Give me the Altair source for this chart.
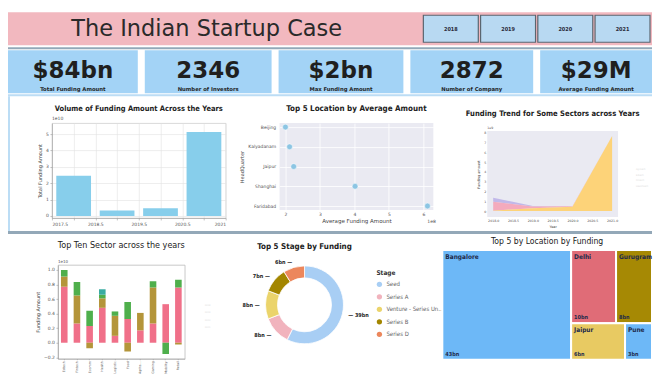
import altair as alt
import pandas as pd

# ---------------- data ----------------
year_buttons = ["2018", "2019", "2020", "2021"]

kpi_values = ["$84bn", "2346", "$2bn", "2872", "$29M"]
kpi_labels = ["Total Funding Amount", "Number of Investors", "Max Funding Amount",
              "Number of Company", "Average Funding Amount"]

vol_years = [2018, 2019, 2020, 2021]
vol_amount = [2.45, 0.33, 0.47, 5.12]            # x 1e10

loc_names = ["Beijing", "Kalyadanam", "Jaipur", "Shanghai", "Faridabad"]
loc_avg = [2.00, 2.12, 2.24, 4.02, 6.12]         # x 1e8

trend_years = [2018, 2019, 2020, 2021]
trend_sectors = ["Agritech", "Edtech", "Fintech", "Healthtech"]
trend_agritech = [0.40, 0.06, 0.02, 0.00]        # x 1e9
trend_edtech = [0.92, 0.16, 0.03, 0.00]
trend_fintech = [0.00, 0.00, 0.00, 0.00]
trend_healthtech = [0.04, 0.30, 0.45, 7.65]

sector_names = ["Edtech", "Fintech", "Ecomm", "Health", "Logistic",
                "Food", "Agritech", "Gaming", "Mobility", "Retail"]
sector_years = ["2018", "2019", "2020", "2021"]
sector_2018 = [0.77, 0.265, 0.23, 0.48, 0.095, 0.325, 0.17, 0.265, 0.53, 0.76]   # x 1e10
sector_2019 = [0.14, 0.385, -0.075, 0.13, 0.275, -0.12, 0.24, 0.495, 0.0, -0.025]
sector_2020 = [0.09, 0.185, 0.21, 0.05, 0.06, 0.235, 0.0, 0.085, -0.155, 0.105]
sector_2021 = [0.0, 0.0, 0.0, 0.075, 0.0, 0.0, 0.0, 0.0, 0.0, 0.0]

stage_names = ["Seed", "Series A", "Venture - Series Unknown", "Series B", "Series D"]
stage_values = [39, 8, 8, 7, 6]                  # bn

city_names = ["Bangalore", "Delhi", "Gurugram", "Jaipur", "Pune"]
city_values = [43, 10, 8, 6, 3]                  # bn

# ---------------- style ----------------
FONT = "DejaVu Sans Condensed, DejaVu Sans, sans-serif"
WIDE = "DejaVu Sans, sans-serif"
SMALL = "DejaVu Sans, sans-serif"
PINK = "#F2B8BF"
KPI_BLUE = "#A3D3F6"
LINE = "#93A8B8"
LIGHT_LINE = "#BCDDF5"
W = 645
DUMMY = pd.DataFrame({"v": [0]})


def spacer(w, h, fill=None):
    c = alt.Chart(DUMMY).mark_rect(opacity=0).encode(
        x=alt.value(0), x2=alt.value(1), y=alt.value(0), y2=alt.value(1)
    ).properties(width=w, height=h)
    if fill:
        c = c.properties(view=alt.ViewBackground(fill=fill))
    return c


def pin(w, H, T, B, border=None):
    # invisible element fixing the vertical extent of a row (optionally a left border line)
    if border:
        return alt.Chart(DUMMY).mark_rect(color=border).encode(
            x=alt.value(0), x2=alt.value(2), y=alt.value(-T), y2=alt.value(H + B)
        ).properties(width=w, height=H)
    return alt.Chart(DUMMY).mark_rect(opacity=0).encode(
        x=alt.value(0), x2=alt.value(1), y=alt.value(-T), y2=alt.value(H + B)
    ).properties(width=w, height=H)


def row(items, T, H, B, border=None):
    parts = []
    cursor = 0
    for k, (lx, w, ch) in enumerate(items):
        gap = lx - cursor
        if k == 0:
            parts.append(pin(gap, H, T, B, border))
        elif gap > 0:
            parts.append(spacer(gap, H))
        parts.append(ch)
        cursor = lx + w
    return alt.hconcat(*parts, spacing=0, bounds="flush").resolve_scale(color="independent")


def small_axis(**kw):
    base = dict(labelFontSize=4.5, labelColor="#555", titleFontSize=5, titleColor="#444",
                titleFontWeight="normal", tickSize=2, tickColor="#888", domainColor="#999",
                domainWidth=0.6, tickWidth=0.5, labelPadding=1.5, titlePadding=3,
                labelFont=SMALL, titleFont=SMALL, gridColor="#E3E3E3", gridWidth=0.6)
    base.update(kw)
    return alt.Axis(**base)


def ttl(text, size=7.8, weight="bold", offset=4):
    return alt.TitleParams(text, fontSize=size, font=FONT, fontWeight=weight,
                           color="#222", offset=offset, anchor="middle")


# ---------------- banner ----------------
btn_df = pd.DataFrame({"year": year_buttons})
title_df = pd.DataFrame({"t": ["The Indian Startup Case"]})
bx = alt.X("year:N", sort=year_buttons,
           scale=alt.Scale(range=[416, 643], paddingInner=0.04, paddingOuter=0), axis=None)
banner = alt.layer(
    alt.Chart(title_df).mark_text(fontSize=22.5, color="#2A2A2A", font=WIDE).encode(
        text="t:N", x=alt.value(199), y=alt.value(17)),
    alt.Chart(btn_df).mark_rect(fill="#B8D9F2", stroke="#5B6670", strokeWidth=1.2).encode(
        x=bx, y=alt.value(3), y2=alt.value(30)),
    alt.Chart(btn_df).mark_text(fontSize=5.5, fontWeight="bold", color="#2A2A3A", font=FONT).encode(
        x=bx, text="year:N", y=alt.value(17)),
).properties(width=W, height=33, view=alt.ViewBackground(fill=PINK))

# ---------------- KPI ----------------
kpi_widths = [130, 127, 125, 123, 112]


def kpi(i):
    df = pd.DataFrame({"v": [kpi_values[i]], "l": [kpi_labels[i]]})
    return alt.layer(
        alt.Chart(df).mark_text(fontSize=23, fontWeight="bold", color="#1F1F1F", font=WIDE).encode(
            text="v:N", x=alt.value(kpi_widths[i] / 2), y=alt.value(21)),
        alt.Chart(df).mark_text(fontSize=5.3, fontWeight="bold", color="#1F1F1F", font=WIDE).encode(
            text="l:N", x=alt.value(kpi_widths[i] / 2), y=alt.value(39)),
    ).properties(width=kpi_widths[i], height=43, view=alt.ViewBackground(fill=KPI_BLUE))


kpi_row = alt.hconcat(*[kpi(i) for i in range(5)], spacing=7, bounds="flush")

# ---------------- volume bar chart ----------------
vol_df = pd.DataFrame({"year": vol_years, "amount": vol_amount})
vb = alt.Chart(vol_df).transform_calculate(
    x0="datum.year - 0.4", x1="datum.year + 0.4").mark_rect(color="#87CEEB").encode(
    x=alt.X("x0:Q", scale=alt.Scale(domain=[2017.5, 2021.5], nice=False, zero=False),
            axis=small_axis(values=[2017.5 + 0.5 * i for i in range(9)],
                            labelExpr="datum.value == 2021.5 ? '2021' : format(datum.value, '.1f')",
                            title=None, grid=True)),
    x2="x1:Q",
    y=alt.Y("amount:Q", scale=alt.Scale(domain=[-0.12, 5.67], nice=False),
            axis=small_axis(values=[0, 1, 2, 3, 4, 5], title="Total Funding Amount", grid=True)),
    y2=alt.datum(0),
)
vt = alt.Chart(DUMMY).mark_text(text="1e10", fontSize=4.5, color="#555", align="left",
                                font=SMALL).encode(x=alt.value(0), y=alt.value(-4))
vol_chart = alt.layer(vb, vt).properties(
    width=174, height=95,
    view=alt.ViewBackground(fill="white", stroke="#CFCFCF", strokeWidth=0.8),
    title=ttl("Volume of Funding Amount Across the Years", size=7.5, offset=4))

# ---------------- scatter ----------------
loc_df = pd.DataFrame({"loc": loc_names, "avg": loc_avg})
sp = alt.Chart(loc_df).mark_circle(size=34, color="#8CC5E3", opacity=1, stroke="white",
                                   strokeWidth=0.5).encode(
    x=alt.X("avg:Q", scale=alt.Scale(domain=[1.83, 6.29], nice=False, zero=False),
            axis=small_axis(values=[2, 3, 4, 5, 6], title="Average Funding Amount", grid=True,
                            gridColor="white", gridWidth=0.8, domain=False, ticks=False,
                            titleFontSize=5.5)),
    y=alt.Y("loc:N", sort=loc_names, scale=alt.Scale(padding=0.2),
            axis=small_axis(title="HeadQuarter", grid=True, gridColor="white", gridWidth=0.8,
                            domain=False, ticks=False, labelPadding=4)),
)
st = alt.Chart(DUMMY).mark_text(text="1e8", fontSize=4.5, color="#555", align="left",
                                font=SMALL).encode(x=alt.value(148), y=alt.value(99))
scatter = alt.layer(sp, st).properties(
    width=154, height=87, view=alt.ViewBackground(fill="#EAEAF2"),
    title=ttl("Top 5 Location by Average Amount", size=8, offset=10))

# ---------------- area trend ----------------
trend_df = pd.DataFrame({
    "year": trend_years * 4,
    "sector": sum([[s] * 4 for s in trend_sectors], []),
    "value": trend_agritech + trend_edtech + trend_fintech + trend_healthtech,
    "stack": sum([[len(trend_sectors) - 1 - i] * 4 for i in range(len(trend_sectors))], []),
})
AREA_W, AREA_H, AREA_TOP = 131, 94, 8
area_bg = alt.Chart(DUMMY).mark_rect(color="#EAEAF2").encode(
    x=alt.value(0), x2=alt.value(AREA_W), y=alt.value(AREA_TOP), y2=alt.value(AREA_H))
ta = alt.Chart(trend_df).mark_area(opacity=0.9).encode(
    x=alt.X("year:Q", scale=alt.Scale(domain=[2017.85, 2021.15], nice=False, zero=False),
            axis=small_axis(values=[2018 + 0.5 * i for i in range(7)], format=".1f", title="Year",
                            grid=False, domain=False, ticks=False,
                            labelFontSize=3.2, titleFontSize=3.5)),
    y=alt.Y("value:Q", stack="zero",
            scale=alt.Scale(domain=[-0.6, 8.15], nice=False, range=[AREA_H, AREA_TOP]),
            axis=small_axis(values=list(range(9)), title="Funding amount", grid=True,
                            gridColor="white", domain=False, ticks=False,
                            labelFontSize=3.2, titleFontSize=3.5)),
    color=alt.Color("sector:N",
                    scale=alt.Scale(domain=trend_sectors,
                                    range=["#BDB3E8", "#F5A3B7", "#A8D89A", "#FFD06C"]),
                    legend=alt.Legend(orient="none", legendX=139, legendY=43, title=None,
                                      symbolType="stroke", symbolStrokeWidth=1.5, symbolSize=18,
                                      labelFontSize=2.5, labelColor="#dddddd", rowPadding=0.5)),
    order=alt.Order("stack:Q"),
)
tt = alt.Chart(DUMMY).mark_text(text="1e9", fontSize=3.2, color="#555", align="left",
                                font=SMALL).encode(x=alt.value(0), y=alt.value(AREA_TOP - 3))
area_chart = alt.layer(area_bg, ta, tt).properties(
    width=AREA_W, height=AREA_H,
    title=ttl("Funding Trend for Some Sectors across Years", size=7.6, offset=6))

# ---------------- stacked sectors ----------------
sec_df = pd.DataFrame({
    "sector": sector_names * 4,
    "year": sum([[y] * len(sector_names) for y in sector_years], []),
    "value": sector_2018 + sector_2019 + sector_2020 + sector_2021,
    "yo": sum([[i] * len(sector_names) for i in range(4)], []),
})
sb = alt.Chart(sec_df).mark_bar().encode(
    x=alt.X("sector:N", sort=sector_names, scale=alt.Scale(paddingInner=0.48, paddingOuter=0.24),
            axis=small_axis(labelAngle=270, title=None, labelFontSize=3.2, grid=False,
                            tickSize=1, labelPadding=1, labelLimit=13)),
    y=alt.Y("value:Q", stack="zero", scale=alt.Scale(domain=[-0.22, 1.07], nice=False),
            axis=small_axis(values=[-0.2, 0, 0.2, 0.4, 0.6, 0.8, 1.0], format=".1f",
                            title="Funding Amount", grid=False)),
    color=alt.Color("year:N",
                    scale=alt.Scale(domain=sector_years,
                                    range=["#F07089", "#B4953A", "#4FAF4C", "#3AACA2"]),
                    legend=alt.Legend(orient="none", legendX=135, legendY=36, title=None,
                                      symbolType="stroke", symbolStrokeWidth=2, symbolSize=30,
                                      labelFontSize=2.5, labelColor="#dddddd", rowPadding=1.5)),
    order=alt.Order("yo:Q"),
)
sbt = alt.Chart(DUMMY).mark_text(text="1e10", fontSize=4, color="#555", align="left",
                                 font=SMALL).encode(x=alt.value(0), y=alt.value(-3))
sector_chart = alt.layer(sb, sbt).properties(
    width=127, height=94,
    view=alt.ViewBackground(fill="white", stroke="#BBBBBB", strokeWidth=0.8),
    title=ttl("Top Ten Sector across the years", size=9, weight="normal", offset=10))

# ---------------- donut ----------------
stage_df = pd.DataFrame({"stage": stage_names, "value": stage_values,
                         "ord": list(range(len(stage_names))),
                         "label": [f"{v}bn" for v in stage_values]})
total_stage = sum(stage_values)
theta_scale = alt.Scale(domain=[0, total_stage])
arcs = alt.Chart(stage_df).mark_arc(innerRadius=27, outerRadius=39, stroke="white",
                                    strokeWidth=0.8).encode(
    theta=alt.Theta("value:Q", stack=True, scale=theta_scale),
    color=alt.Color("stage:N", sort=stage_names,
                    scale=alt.Scale(domain=stage_names,
                                    range=["#A8CEF4", "#F1B3BD", "#EBD46B", "#A38600", "#EC875C"]),
                    legend=alt.Legend(title="Stage", orient="none", legendX=112, legendY=5,
                                      titleFontSize=6.5, titleFont=FONT, titleColor="#333",
                                      labelFontSize=6, labelColor="#666", labelFont=FONT,
                                      symbolType="circle", symbolSize=28, symbolStrokeWidth=0,
                                      rowPadding=6.5, labelLimit=58, titlePadding=5)),
    order=alt.Order("ord:Q"),
)
lab_base = alt.Chart(stage_df).transform_window(
    cum="sum(value)", sort=[alt.SortField("ord")]).transform_joinaggregate(
    total="sum(value)").transform_calculate(mid="datum.cum - datum.value / 2")
right_lab = lab_base.transform_filter("datum.mid < datum.total / 2").transform_calculate(
    txt="'— ' + datum.label").mark_text(radius=45, align="left", baseline="middle", fontSize=5.5,
                                        fontWeight="bold", color="#222", font=FONT).encode(
    theta=alt.Theta("mid:Q", stack=False, scale=theta_scale), text="txt:N")
left_lab = lab_base.transform_filter("datum.mid >= datum.total / 2").transform_calculate(
    txt="datum.label + ' —'").mark_text(radius=45, align="right", baseline="middle", fontSize=5.5,
                                        fontWeight="bold", color="#222", font=FONT).encode(
    theta=alt.Theta("mid:Q", stack=False, scale=theta_scale), text="txt:N")
donut = alt.layer(arcs, right_lab, left_lab).properties(
    width=80, height=80, title=ttl("Top 5 Stage by Funding", size=8, offset=9))


# ---------------- treemap ----------------
def worst(r, length):
    s = sum(r)
    return max(max(length * length * a / (s * s), s * s / (length * length * a)) for a in r)


def layout_row(r, x, y, w, h):
    s = sum(r)
    out = []
    if w >= h:
        cw = s / h
        yy = y
        for a in r:
            rh = a / cw
            out.append((x, yy, x + cw, yy + rh))
            yy += rh
        return out, (x + cw, y, w - cw, h)
    rh = s / w
    xx = x
    for a in r:
        rw = a / rh
        out.append((xx, y, xx + rw, y + rh))
        xx += rw
    return out, (x, y + rh, w, h - rh)


def squarify(vals, Wd, Ht):
    tot = sum(vals)
    areas = [v * Wd * Ht / tot for v in vals]
    rects, r = [], []
    x, y, w, h = 0, 0, Wd, Ht
    i = 0
    while i < len(areas):
        length = min(w, h)
        a = areas[i]
        if not r or worst(r + [a], length) <= worst(r, length):
            r.append(a)
            i += 1
        else:
            out, (x, y, w, h) = layout_row(r, x, y, w, h)
            rects += out
            r = []
    if r:
        out, _ = layout_row(r, x, y, w, h)
        rects += out
    return rects


TM_UW, TH = 213, 110   # layout units (aspect of the original treemap)
TW = 210               # drawn width in pixels
TM_SHIFT = 15          # treemap starts above the row's plot top
rects = squarify(city_values, TM_UW, TH)
tm_df = pd.DataFrame({
    "city": city_names, "value": city_values,
    "label": [f"{v}bn" for v in city_values],
    "x0": [r[0] for r in rects], "y0": [r[1] for r in rects],
    "x1": [r[2] for r in rects], "y1": [r[3] for r in rects],
})
tx = alt.X("x0:Q", scale=alt.Scale(domain=[0, TM_UW], nice=False, zero=False), axis=None)
tys = alt.Scale(domain=[0, TH], nice=False, zero=False, range=[-TM_SHIFT, TH - TM_SHIFT])
cells = alt.Chart(tm_df).mark_rect(stroke="white", strokeWidth=2).encode(
    x=tx, x2="x1:Q", y=alt.Y("y0:Q", scale=tys, axis=None), y2="y1:Q",
    color=alt.Color("city:N", scale=alt.Scale(domain=city_names,
                                              range=["#6DB8F7", "#E06C77", "#A68904", "#E8CA62", "#6DB8F7"]),
                    legend=None))
names = alt.Chart(tm_df).mark_text(align="left", baseline="top", dx=3, dy=4, fontSize=6.5,
                                   fontWeight="bold", color="#1E2A4A", font=FONT).encode(
    x=tx, y=alt.Y("y0:Q", scale=tys, axis=None), text="city:N")
vals = alt.Chart(tm_df).mark_text(align="left", baseline="bottom", dx=3, dy=-3, fontSize=5.5,
                                  fontWeight="bold", color="#1E2A4A", font=FONT).encode(
    x=tx, y=alt.Y("y1:Q", scale=tys, axis=None), text="label:N")
treemap = alt.layer(cells, names, vals).properties(
    width=TW, height=TH - TM_SHIFT,
    title=ttl("Top 5 by Location by Funding", size=8.6, weight="normal", offset=3))

# ---------------- assemble ----------------
mid_row = row([
    (44, 174, vol_chart),
    (272, 154, scatter),
    (480, AREA_W, area_chart),
], T=27, H=95, B=13, border=LIGHT_LINE)
bottom_row = row([
    (50, 127, sector_chart),
    (257, 80, donut),
    (435, TW, treemap),
], T=31, H=95, B=15)

chart = alt.vconcat(
    spacer(W, 4), banner, spacer(W, 2), spacer(W, 2, LINE), spacer(W, 1),
    kpi_row, spacer(W, 1), spacer(W, 2, LIGHT_LINE), mid_row, spacer(W, 3, LINE),
    bottom_row,
    spacing=0,
).resolve_scale(color="independent").properties(padding=0, background="white").configure(
    font=FONT, view=alt.ViewConfig(stroke=None))

chart.save("out.html", embed_options={"renderer": "svg", "actions": False})
